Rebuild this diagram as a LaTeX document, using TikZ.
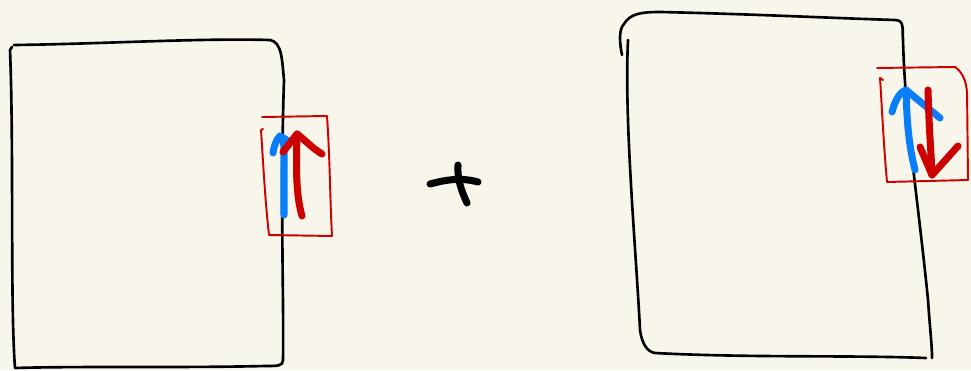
\documentclass[tikz,border=0pt]{standalone}
\definecolor{paper}{RGB}{248,246,234}
\definecolor{penblue}{RGB}{10,125,250}
\definecolor{penred}{RGB}{205,0,0}
\tikzset{
	pen/.style={line width=0.75pt, line cap=round, line join=round},
	thin pen/.style={line width=0.55pt, line cap=round, line join=round},
	thick pen/.style={line width=2pt, line cap=round, line join=round},
}
\begin{document}
\begin{tikzpicture}[x=0.01cm,y=-0.01cm]
	\fill[paper] (0,0) rectangle (971,370);
	\useasboundingbox (0,0) rectangle (971,370);
	% left block
	\coordinate (A1) at (14,45);
	\coordinate (A2) at (270,40);
	\coordinate (A3) at (283,360);
	\coordinate (A4) at (15,368);
	\draw[pen] (A1) .. controls (100,44) and (200,38) .. (A2)
		.. controls (282,42) and (282,60) .. (284,80)
		.. controls (280,200) and (284,300) .. (A3)
		.. controls (283,366) and (278,366) .. (265,366)
		.. controls (180,368) and (80,366) .. (A4)
		.. controls (10,300) and (14,150) .. (10,50) -- (12,47);
	% left red box
	\coordinate (R1) at (262,117);
	\coordinate (R2) at (327,116);
	\coordinate (R3) at (332,236);
	\coordinate (R4) at (269,235);
	\draw[thin pen, penred] (R1) -- (R2) .. controls (330,160) and (330,200) .. (R3) -- (R4)
		.. controls (265,200) and (263,160) .. (261,130) -- (263,129);
	% left arrows
	\draw[thick pen, penblue] (284,215) -- (284,150) .. controls (284,142) and (283,138) .. (280,136)
		.. controls (276,140) and (274,146) .. (273,153);
	\draw[thick pen, penblue] (280,136) -- (290,142);
	\draw[thick pen, penred] (302,216) .. controls (296,195) and (296,170) .. (297,134);
	\draw[thick pen, penred] (283,152) -- (297,134) .. controls (305,140) and (312,148) .. (322,154);
	% plus
	\draw[thick pen] (430,184) .. controls (445,180) and (460,177) .. (478,182);
	\draw[thick pen] (458,165) .. controls (457,180) and (462,192) .. (467,203);
	% right block
	\coordinate (B1) at (622,55);
	\coordinate (B2) at (895,20);
	\coordinate (B3) at (932,358);
	\coordinate (B4) at (655,353);
	\draw[pen] (B1) .. controls (620,45) and (618,30) .. (624,24)
		.. controls (630,14) and (640,12) .. (660,12)
		.. controls (750,14) and (830,18) .. (B2)
		.. controls (905,20) and (902,30) .. (903,40)
		.. controls (905,120) and (918,200) .. (928,300)
		.. controls (930,330) and (932,345) .. (B3);
	\draw[pen] (628,40) .. controls (624,120) and (636,250) .. (640,330)
		.. controls (642,345) and (648,352) .. (B4)
		.. controls (750,358) and (850,355) .. (926,358);
	% right red box
	\coordinate (S1) at (877,68);
	\coordinate (S2) at (955,67);
	\coordinate (S3) at (968,180);
	\coordinate (S4) at (887,182);
	\draw[thin pen, penred] (S1) -- (S2) .. controls (962,72) and (966,80) .. (967,92) -- (S3) -- (S4)
		.. controls (884,150) and (882,110) .. (880,78) -- (883,80);
	% right arrows
	\draw[thick pen, penblue] (915,170) .. controls (910,150) and (907,130) .. (906,90);
	\draw[thick pen, penblue] (892,112) .. controls (895,100) and (900,92) .. (906,90) -- (940,118);
	\draw[thick pen, penred] (928,90) .. controls (929,130) and (931,150) .. (932,175);
	\draw[thick pen, penred] (920,147) -- (932,175) -- (958,146);
\end{tikzpicture}
\end{document}
